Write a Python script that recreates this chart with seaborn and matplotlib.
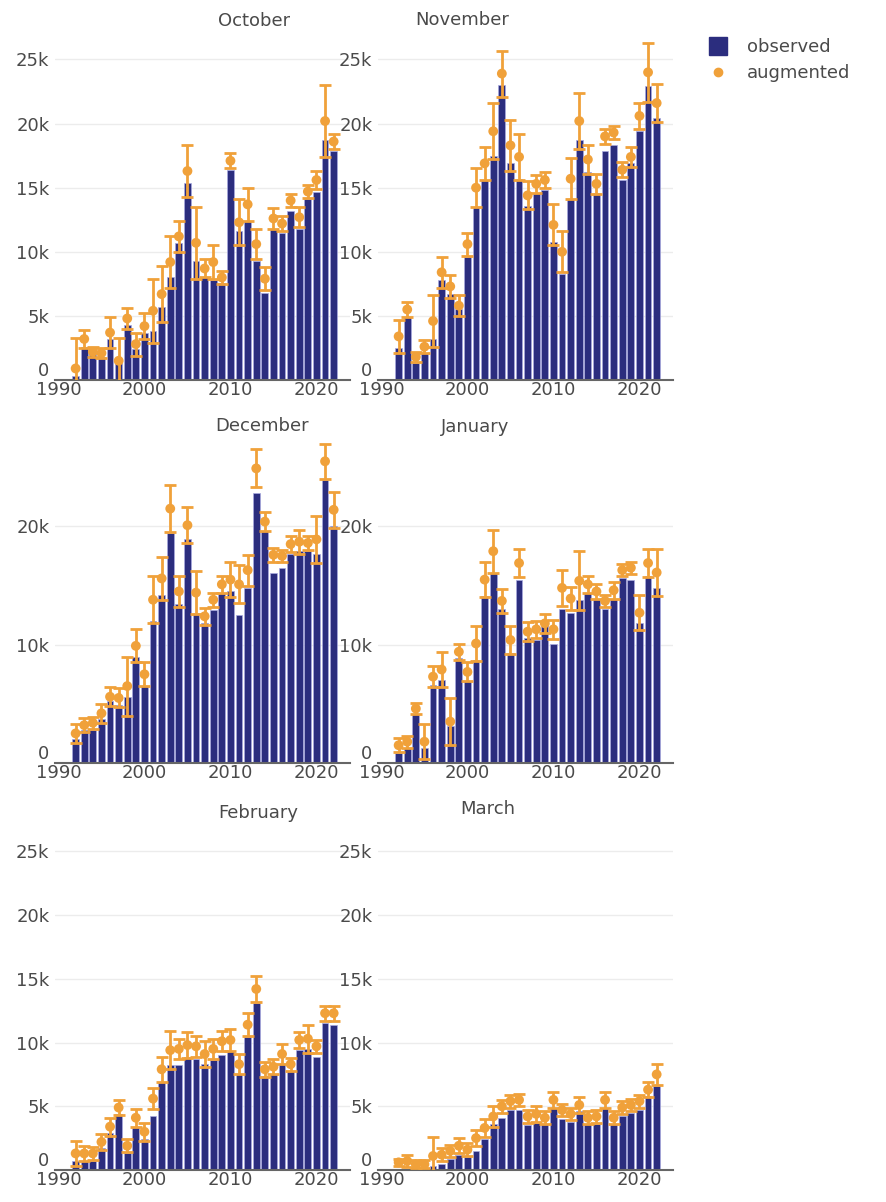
import pandas as pd
import matplotlib
matplotlib.use("Agg")
import matplotlib.pyplot as plt
import seaborn as sns
from matplotlib.lines import Line2D
from matplotlib.ticker import FuncFormatter

sns.set_theme(style="white")
plt.rcParams["font.family"] = ["DejaVu Sans"]

# data (values in thousands)
years = list(range(1992, 2023))
months = ["October", "November", "December", "January", "February", "March"]

oct_obs = [0.3, 2.6, 2.0, 1.8, 3.2, 1.3, 4.3, 2.4, 3.7, 3.8, 5.7, 8.0, 10.7, 15.4, 9.3, 8.0, 7.8, 7.6, 16.4, 11.6, 12.4, 9.3, 6.8, 11.8, 11.5, 13.2, 11.8, 14.1, 14.7, 18.7, 17.9]
oct_aug = [0.9, 3.2, 2.2, 2.1, 3.7, 1.5, 4.8, 2.8, 4.2, 5.4, 6.7, 9.2, 11.2, 16.3, 10.7, 8.7, 9.2, 8.0, 17.1, 12.3, 13.7, 10.6, 7.9, 12.6, 12.2, 14.0, 12.7, 14.7, 15.6, 20.2, 18.6]
oct_err = [2.4, 0.7, 0.4, 0.4, 1.2, 1.8, 0.8, 0.9, 1.0, 2.5, 2.2, 2.0, 1.2, 2.0, 2.8, 0.7, 1.3, 0.5, 0.6, 1.8, 1.3, 1.2, 0.9, 0.8, 0.6, 0.5, 0.8, 0.5, 0.7, 2.8, 0.6]

nov_obs = [2.5, 4.9, 1.3, 2.1, 3.2, 7.8, 6.7, 5.5, 9.6, 13.5, 15.6, 17.5, 23.0, 16.9, 15.7, 13.6, 14.6, 14.8, 10.8, 8.3, 14.1, 18.7, 16.2, 14.6, 17.9, 18.3, 15.6, 16.9, 19.4, 22.9, 20.4]
nov_aug = [3.4, 5.5, 1.8, 2.6, 4.6, 8.4, 7.3, 5.8, 10.6, 15.0, 16.9, 19.4, 23.9, 18.3, 17.4, 14.4, 15.3, 15.6, 12.1, 10.0, 15.7, 20.2, 17.2, 15.3, 19.0, 19.3, 16.4, 17.4, 20.6, 24.0, 21.6]
nov_err = [1.3, 0.6, 0.4, 0.5, 2.0, 1.2, 0.9, 0.8, 0.9, 1.5, 1.3, 2.2, 1.8, 2.0, 1.8, 1.1, 0.7, 0.6, 1.6, 1.6, 1.6, 2.2, 1.1, 0.8, 0.6, 0.5, 0.6, 0.8, 1.0, 2.3, 1.5]

dec_obs = [2.0, 2.8, 2.8, 3.7, 5.2, 4.9, 5.6, 9.0, 6.5, 12.0, 14.2, 19.4, 13.4, 18.9, 12.7, 11.8, 12.9, 14.4, 14.5, 12.5, 14.8, 22.8, 19.6, 16.1, 16.5, 17.7, 17.9, 17.9, 17.7, 23.9, 20.0]
dec_aug = [2.5, 3.2, 3.4, 4.2, 5.6, 5.5, 6.5, 9.9, 7.5, 13.8, 15.6, 21.5, 14.5, 20.1, 14.4, 12.4, 13.8, 15.1, 15.5, 15.1, 16.3, 24.9, 20.4, 17.6, 17.5, 18.5, 18.7, 18.6, 18.9, 25.5, 21.4]
dec_err = [0.8, 0.6, 0.5, 0.8, 0.8, 0.8, 2.5, 1.4, 1.0, 2.0, 1.8, 2.0, 1.3, 1.5, 1.8, 0.7, 0.6, 0.7, 1.5, 1.6, 1.3, 1.6, 0.8, 0.6, 0.5, 0.7, 1.0, 0.6, 2.0, 1.5, 1.5]

jan_obs = [0.85, 1.3, 4.1, 1.3, 6.6, 7.0, 3.1, 8.9, 6.9, 8.7, 14.1, 16.1, 13.0, 9.3, 15.5, 10.6, 10.4, 11.7, 10.1, 13.0, 12.7, 13.8, 14.4, 13.9, 13.0, 13.9, 15.6, 15.5, 11.8, 15.8, 14.8]
jan_aug = [1.5, 1.8, 4.6, 1.8, 7.3, 7.9, 3.5, 9.4, 7.7, 10.1, 15.5, 17.9, 13.7, 10.4, 16.9, 11.1, 11.3, 11.8, 11.3, 14.8, 13.9, 15.4, 15.1, 14.5, 13.7, 14.6, 16.3, 16.5, 12.7, 16.9, 16.1]
jan_err = [0.6, 0.5, 0.5, 1.5, 0.9, 1.5, 2.0, 0.7, 0.8, 1.5, 1.5, 1.8, 1.0, 1.2, 1.2, 0.8, 0.7, 0.8, 0.8, 1.5, 1.0, 2.5, 0.7, 0.6, 0.5, 0.7, 0.5, 0.5, 1.5, 1.2, 2.0]

feb_obs = [0.7, 0.7, 0.7, 1.7, 2.9, 4.4, 1.3, 3.4, 2.4, 4.2, 6.9, 8.2, 8.2, 8.9, 8.7, 8.3, 8.6, 9.0, 9.3, 7.5, 10.4, 13.1, 7.4, 7.5, 8.3, 7.8, 9.4, 9.5, 8.9, 11.5, 11.4]
feb_aug = [1.3, 1.3, 1.3, 2.2, 3.4, 4.9, 1.9, 4.1, 3.0, 5.6, 7.9, 9.4, 9.5, 9.8, 9.7, 9.1, 9.5, 10.1, 10.2, 8.3, 11.4, 14.2, 7.9, 8.1, 9.1, 8.3, 10.2, 10.3, 9.7, 12.3, 12.3]
feb_err = [1.0, 0.6, 0.5, 0.6, 0.7, 0.6, 0.5, 0.7, 0.7, 0.8, 1.0, 1.5, 0.8, 1.0, 0.8, 1.0, 0.8, 0.8, 0.9, 0.8, 0.9, 1.0, 0.6, 0.6, 0.8, 0.5, 0.6, 1.1, 0.5, 0.6, 0.6]

mar_obs = [0.1, 0.1, 0.1, 0.1, 0.3, 0.5, 0.85, 1.2, 1.0, 1.5, 2.4, 3.6, 4.1, 4.7, 4.7, 3.5, 3.7, 3.6, 4.9, 4.0, 3.8, 4.6, 3.6, 3.6, 4.9, 3.6, 4.2, 4.5, 4.7, 5.8, 6.6]
mar_aug = [0.6, 0.7, 0.45, 0.45, 1.1, 1.2, 1.5, 1.9, 1.6, 2.5, 3.3, 4.2, 5.0, 5.4, 5.5, 4.2, 4.4, 4.1, 5.5, 4.7, 4.4, 5.1, 4.1, 4.2, 5.5, 4.1, 4.9, 5.1, 5.4, 6.3, 7.5]
mar_err = [0.3, 0.5, 0.3, 0.3, 1.5, 0.5, 0.5, 0.6, 0.5, 0.6, 0.7, 0.8, 0.5, 0.5, 0.5, 0.5, 0.6, 0.5, 0.6, 0.5, 0.5, 0.6, 0.5, 0.5, 0.6, 0.5, 0.5, 0.5, 0.5, 0.6, 0.8]

obs_all = [oct_obs, nov_obs, dec_obs, jan_obs, feb_obs, mar_obs]
aug_all = [oct_aug, nov_aug, dec_aug, jan_aug, feb_aug, mar_aug]
err_all = [oct_err, nov_err, dec_err, jan_err, feb_err, mar_err]

frames = []
for m, o, a, e in zip(months, obs_all, aug_all, err_all):
    frames.append(pd.DataFrame({"month": m, "year": years,
                                "observed": [v * 1000 for v in o],
                                "augmented": [v * 1000 for v in a],
                                "err": [v * 1000 for v in e]}))
df = pd.concat(frames, ignore_index=True)

NAVY = "#2b2d7e"
ORANGE = "#f0a13a"
TXT = "#4a4a4a"

W, H = 886, 1202
fig = plt.figure(figsize=(W / 100, H / 100), dpi=100)

# panel boxes in pixels
cols = [(55, 350), (378, 673)]
rows = [(30, 380), (440, 763), (822, 1170)]
title_pos = [(254, 21), (462, 20), (262, 426), (475, 427), (258, 813), (488, 809)]

kfmt = FuncFormatter(lambda v, p: "0" if v == 0 else f"{int(v / 1000)}k")

for i, m in enumerate(months):
    r, c = divmod(i, 2)
    x0, x1 = cols[c]
    t, b = rows[r]
    ax = fig.add_axes([x0 / W, 1 - b / H, (x1 - x0) / W, (b - t) / H])
    d = df[df["month"] == m]
    sns.barplot(data=d, x="year", y="observed", native_scale=True, color=NAVY,
                saturation=1, width=0.8, errorbar=None, edgecolor="#a9aae0",
                linewidth=0.5, ax=ax, zorder=2)
    ax.errorbar(d["year"], d["augmented"], yerr=d["err"], fmt="none",
                ecolor=ORANGE, elinewidth=2, capsize=4.5, capthick=2, zorder=3)
    sns.scatterplot(data=d, x="year", y="augmented", color=ORANGE, s=50,
                    edgecolor="none", ax=ax, zorder=4)
    ax.set_xlim(1989.6, 2023.9)
    ax.set_ylim(0, 27300)
    ax.set_xticks([1990, 2000, 2010, 2020])
    step = 10000 if r == 1 else 5000
    ax.set_yticks(list(range(0, 25001 if r != 1 else 20001, step)))
    ax.yaxis.set_major_formatter(kfmt)
    ax.set_xlabel("")
    ax.set_ylabel("")
    ax.grid(axis="y", color="#ececec", linewidth=1, zorder=0)
    ax.grid(axis="x", visible=False)
    for s in ["top", "right", "left"]:
        ax.spines[s].set_visible(False)
    ax.spines["bottom"].set_color("#666666")
    ax.spines["bottom"].set_linewidth(1.5)
    ax.tick_params(axis="both", length=0, labelsize=13, labelcolor=TXT)
    ax.tick_params(axis="x", pad=1)
    ax.tick_params(axis="y", pad=4)
    # lift the "0" label above the axis line so it clears the year labels
    fig.canvas.draw()
    ax.get_yticklabels()[0].set_va("bottom")
    tx, ty = title_pos[i]
    fig.text(tx / W, 1 - ty / H, m, ha="center", va="center", fontsize=13, color=TXT)

handles = [Line2D([], [], marker="s", linestyle="none", markersize=13, color=NAVY),
           Line2D([], [], marker="o", linestyle="none", markersize=6, color=ORANGE)]
fig.legend(handles, ["observed", "augmented"], loc="upper left",
           bbox_to_anchor=(684 / W, 1 - 22 / H), frameon=False, fontsize=13,
           labelcolor=TXT, handletextpad=0.6, labelspacing=0.45)

fig.savefig("out.png", dpi=100)
